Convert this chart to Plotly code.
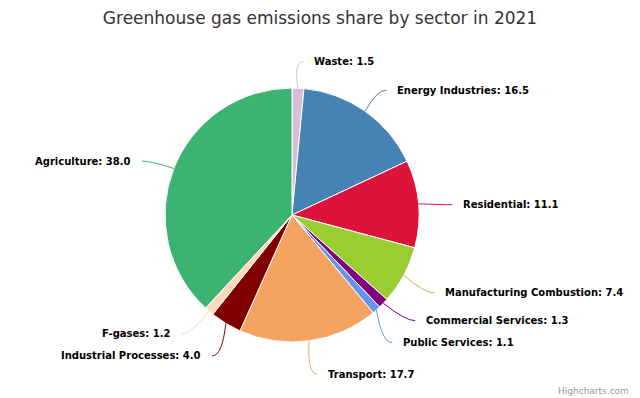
import math
import plotly.graph_objects as go

sectors = ["Waste", "Energy Industries", "Residential", "Manufacturing Combustion",
           "Commercial Services", "Public Services", "Transport",
           "Industrial Processes", "F-gases", "Agriculture"]
shares = [1.5, 16.5, 11.1, 7.4, 1.3, 1.1, 17.7, 4.0, 1.2, 38.0]
colors = ["#d8bfd8", "#4682b4", "#dc143c", "#9acd32", "#800080",
          "#6495ed", "#f4a460", "#800000", "#ffdab9", "#3cb371"]

W, H = 640, 398
CX, CY, R = 292, 215, 127
DIST = 30
LABEL_FONT = "DejaVu Sans"

fig = go.Figure(go.Pie(
    labels=sectors, values=shares, sort=False, direction="clockwise",
    rotation=0, marker=dict(colors=colors, line=dict(color="#ffffff", width=1)),
    textinfo="none", hoverinfo="label+value", showlegend=False,
    domain=dict(x=[(CX - R) / W, (CX + R) / W], y=[1 - (CY + R) / H, 1 - (CY - R) / H]),
))

# compute label positions from data
total = sum(shares)
cum = 0.0
items = []
for name, v, c in zip(sectors, shares, colors):
    mid = (cum + v / 2) / total * 2 * math.pi
    cum += v
    ex = CX + R * math.sin(mid)
    ey = CY - R * math.cos(mid)
    ly = CY - (R + DIST) * math.cos(mid)
    side = 1 if math.sin(mid) >= 0 else -1
    items.append(dict(name=name, v=v, c=c, ex=ex, ey=ey, ly=ly, side=side))

# simple overlap avoidance per side
GAP = 22
for s in (1, -1):
    grp = sorted([it for it in items if it["side"] == s], key=lambda d: d["ly"])
    for _ in range(50):
        moved = False
        for a, b in zip(grp, grp[1:]):
            d = b["ly"] - a["ly"]
            if d < GAP:
                push = (GAP - d) / 2
                a["ly"] -= push
                b["ly"] += push
                moved = True
        if not moved:
            break

# x follows the outer circle at the (adjusted) label height
for it in items:
    dy = min(abs(it["ly"] - CY), R + DIST)
    it["lx"] = CX + it["side"] * math.sqrt((R + DIST) ** 2 - dy ** 2)
    it["ly"] += 3.5

def px(x):
    return x / W

def py(y):
    return 1 - y / H

shapes = []
annotations = []
for it in items:
    s = it["side"]
    endx = it["lx"] + s * 4
    ctrlx = it["lx"] - s * 6
    path = "M {:.4f} {:.4f} Q {:.4f} {:.4f} {:.4f} {:.4f}".format(
        px(it["ex"]), py(it["ey"]), px(ctrlx), py(it["ly"]), px(endx), py(it["ly"]))
    shapes.append(dict(type="path", path=path, xref="paper", yref="paper",
                       line=dict(color=it["c"], width=1)))
    annotations.append(dict(
        x=px(it["lx"] + s * 13), y=py(it["ly"]), xref="paper", yref="paper",
        text="<b>{}: {:.1f}</b>".format(it["name"], it["v"]), showarrow=False,
        xanchor="left" if s > 0 else "right", yanchor="middle",
        font=dict(family=LABEL_FONT, size=10, color="#000000")))

annotations.append(dict(x=px(631), y=py(391), xref="paper", yref="paper",
                        text="Highcharts.com", showarrow=False, xanchor="right",
                        yanchor="middle", font=dict(family="DejaVu Sans", size=9, color="#999999")))

fig.update_layout(
    width=W, height=H, autosize=False, margin=dict(l=0, r=0, t=0, b=0),
    paper_bgcolor="#ffffff", plot_bgcolor="#ffffff",
    title=dict(text="Greenhouse gas emissions share by sector in 2021",
               x=0.5, xanchor="center", y=1 - 18 / H, yanchor="middle", yref="container",
               font=dict(family="DejaVu Sans", size=17, color="#333333")),
    shapes=shapes, annotations=annotations,
)

fig.write_html("out.html", config={"displayModeBar": False},
               post_script="document.body.style.margin='0';document.body.style.padding='0';")
